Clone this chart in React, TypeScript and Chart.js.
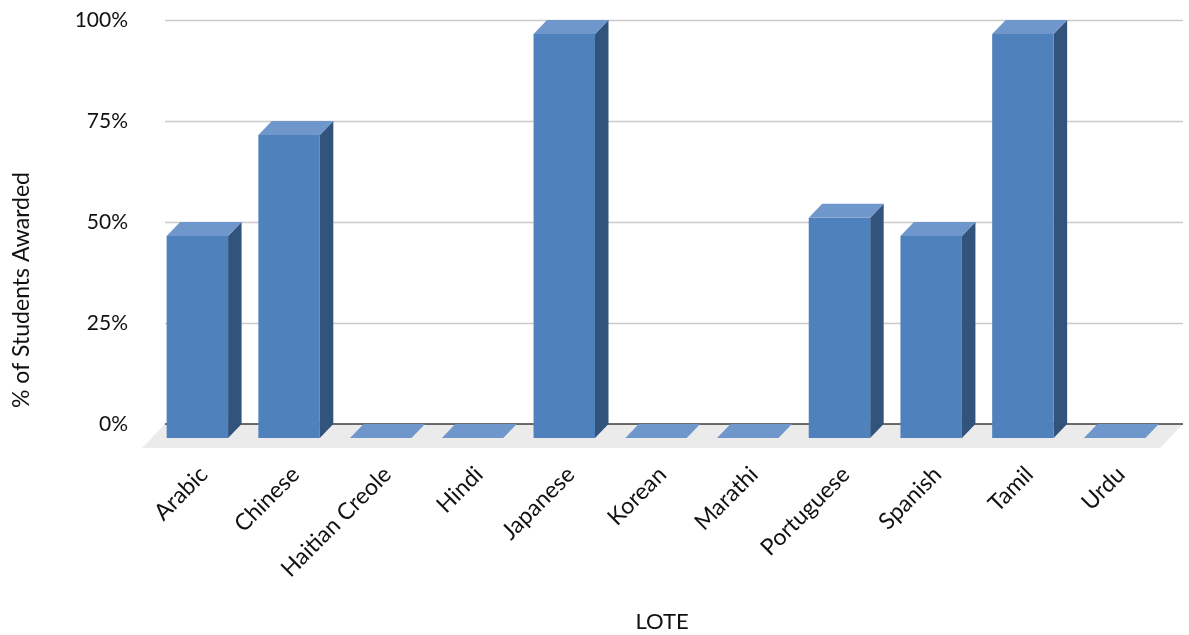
import React, { useEffect, useRef } from "react";
import { Chart, registerables } from "chart.js";

Chart.register(...registerables);

// Languages other than English (LOTE) and share of students awarded
const languages = [
  "Arabic",
  "Chinese",
  "Haitian Creole",
  "Hindi",
  "Japanese",
  "Korean",
  "Marathi",
  "Portuguese",
  "Spanish",
  "Tamil",
  "Urdu",
];
const awardedPct = [50, 75, 0, 0, 100, 0, 0, 54.5, 50, 100, 0];
const yTicks = [0, 25, 50, 75, 100];
const xTitle = "LOTE";
const yTitle = "% of Students Awarded";

const FONT = "Lato, 'Open Sans', sans-serif";
const TEXT = "#111";
const FRONT = "#4f81bd";
const SIDE = "#32537c";
const TOP = "#6f97cb";
const FLOOR = "#ebebeb";
const GRID = "#cbcbcb";

// depth of the oblique projection for bars and floor
const BAR_DX = -13.5;
const BAR_DY = 14;
const FLOOR_DX = -23;
const FLOOR_DY = 24;
// the back wall reaches a little past the last category
const WALL_EXTRA = 9;

const column3d = {
  id: "column3d",
  beforeDatasetsDraw(chart: any) {
    const { ctx, chartArea, scales } = chart;
    const { left, bottom } = chartArea;
    const right = chartArea.right + WALL_EXTRA;
    ctx.save();
    // back wall grid lines
    ctx.strokeStyle = GRID;
    ctx.lineWidth = 1.5;
    yTicks.forEach((v) => {
      if (v === 0) return;
      const py = Math.round(scales.y.getPixelForValue(v)) + 0.5;
      ctx.beginPath();
      ctx.moveTo(left, py);
      ctx.lineTo(right, py);
      ctx.stroke();
    });
    // floor
    ctx.fillStyle = FLOOR;
    ctx.beginPath();
    ctx.moveTo(left, bottom);
    ctx.lineTo(right, bottom);
    ctx.lineTo(right + FLOOR_DX, bottom + FLOOR_DY);
    ctx.lineTo(left + FLOOR_DX, bottom + FLOOR_DY);
    ctx.closePath();
    ctx.fill();
    // back edge of the floor
    ctx.strokeStyle = "#3a3a3a";
    ctx.lineWidth = 1.5;
    ctx.beginPath();
    ctx.moveTo(left, bottom);
    ctx.lineTo(right, bottom);
    ctx.stroke();
    ctx.restore();
  },
  afterDatasetsDraw(chart: any) {
    const { ctx } = chart;
    const meta = chart.getDatasetMeta(0);
    ctx.save();
    meta.data.forEach((bar: any) => {
      const { x, y, base, width } = bar.getProps(["x", "y", "base", "width"], true);
      const bl = x - width / 2;
      const br = x + width / 2;
      const fl = bl + BAR_DX;
      const fr = br + BAR_DX;
      const fTop = y + BAR_DY;
      const fBase = base + BAR_DY;
      const h = base - y;
      if (h > 0.5) {
        // right side
        ctx.fillStyle = SIDE;
        ctx.beginPath();
        ctx.moveTo(fr, fTop);
        ctx.lineTo(br, y);
        ctx.lineTo(br, base);
        ctx.lineTo(fr, fBase);
        ctx.closePath();
        ctx.fill();
        // front
        ctx.fillStyle = FRONT;
        ctx.fillRect(fl, fTop, width, fBase - fTop);
      }
      // top
      ctx.fillStyle = TOP;
      ctx.beginPath();
      ctx.moveTo(fl, fTop);
      ctx.lineTo(bl, y);
      ctx.lineTo(br, y);
      ctx.lineTo(fr, fTop);
      ctx.closePath();
      ctx.fill();
    });
    ctx.restore();
  },
  afterDraw(chart: any) {
    const { ctx } = chart;
    ctx.save();
    ctx.fillStyle = TEXT;
    ctx.font = `22px ${FONT}`;
    ctx.textAlign = "center";
    ctx.textBaseline = "middle";
    ctx.fillText(xTitle, 662, 622);
    ctx.font = `23px ${FONT}`;
    ctx.translate(22, 290);
    ctx.rotate(-Math.PI / 2);
    ctx.fillText(yTitle, 0, 0);
    ctx.restore();
  },
};

export default function App() {
  const canvasRef = useRef<HTMLCanvasElement | null>(null);

  useEffect(() => {
    if (!canvasRef.current) return;
    const chart = new Chart(canvasRef.current, {
      type: "bar",
      data: {
        labels: languages,
        datasets: [
          {
            label: yTitle,
            data: awardedPct,
            backgroundColor: "rgba(0,0,0,0)",
            borderWidth: 0,
            barPercentage: 0.67,
            categoryPercentage: 1,
          },
        ],
      },
      options: {
        animation: false,
        responsive: true,
        maintainAspectRatio: false,
        layout: { padding: { left: 0, right: 15, top: 20, bottom: 0 } },
        plugins: {
          legend: { display: false },
          tooltip: { enabled: false },
        },
        scales: {
          x: {
            grid: { display: false, drawTicks: false },
            border: { display: false },
            ticks: {
              autoSkip: false,
              minRotation: 45,
              maxRotation: 45,
              padding: 37,
              labelOffset: -7,
              color: TEXT,
              font: { family: FONT, size: 23 },
            },
            afterFit(scale: any) {
              scale.height = 211;
            },
          },
          y: {
            min: 0,
            max: 100,
            afterBuildTicks(scale: any) {
              scale.ticks = yTicks.map((v) => ({ value: v }));
            },
            grid: { display: false, drawTicks: false },
            border: { display: false },
            ticks: {
              padding: 37,
              color: TEXT,
              font: { family: FONT, size: 21 },
              callback: (v: any) => v + "%",
            },
            afterFit(scale: any) {
              scale.width = 165;
              scale.paddingTop = 0;
              scale.paddingBottom = 0;
            },
          },
        },
      },
      plugins: [column3d],
    });
    return () => chart.destroy();
  }, []);

  return (
    <div style={{ position: "fixed", left: 0, top: 0, width: 1189, height: 635, background: "#fff" }}>
      <canvas ref={canvasRef} />
    </div>
  );
}
